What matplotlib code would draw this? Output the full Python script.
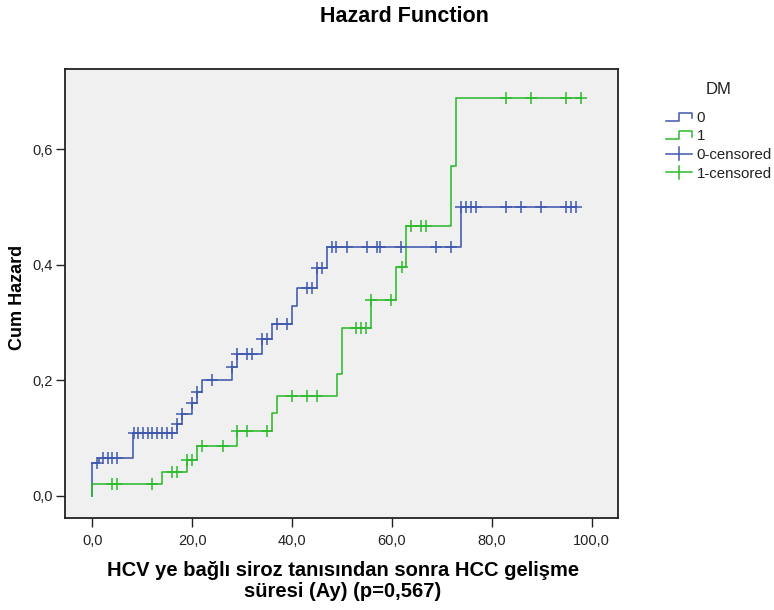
import numpy as np
import matplotlib
matplotlib.use("Agg")
import matplotlib.pyplot as plt
from matplotlib.lines import Line2D
from matplotlib.legend_handler import HandlerBase

plt.rcParams['font.family'] = ['Liberation Sans', 'DejaVu Sans']

# ---- data ----
t0 = [0, 0, 1.3, 8.1, 16.9, 17.9, 20.0, 20.9, 22.0, 28.0, 28.9, 34.0, 36.0, 40.0, 41.0, 45.0, 47.0, 73.9, 96.8]
h0 = [0, 0.056, 0.066, 0.108, 0.124, 0.141, 0.161, 0.180, 0.200, 0.223, 0.246, 0.271, 0.298, 0.328, 0.359, 0.394, 0.431, 0.500, 0.500]
c0 = [1.0, 2.2, 3.1, 4.0, 5.0, 8.4, 9.2, 10.2, 11.1, 12.0, 13.0, 14.0, 15.0, 16.0, 16.9, 17.9,
      20.0, 20.9, 24.0, 28.0, 28.9, 30.9, 31.9, 34.0, 35.0, 37.0, 39.0, 43.0, 44.0, 45.0, 46.0,
      48.0, 48.9, 51.0, 55.0, 57.0, 57.7, 61.9, 68.9, 71.8, 73.9, 74.9, 75.9, 76.8, 82.9, 85.9,
      89.9, 94.9, 95.9, 96.8]

t1 = [0, 0, 14.0, 19.0, 21.0, 28.9, 36.0, 37.0, 49.0, 50.0, 55.9, 60.9, 62.9, 71.9, 72.9, 97.9]
h1 = [0, 0.0197, 0.0405, 0.062, 0.0865, 0.112, 0.143, 0.173, 0.211, 0.291, 0.339, 0.396, 0.466, 0.571, 0.688, 0.688]
c1 = [4.0, 5.0, 12.0, 16.0, 16.9, 19.0, 20.0, 22.0, 26.1, 28.9, 31.0, 35.0, 40.0, 43.0, 45.0,
      52.9, 53.9, 54.9, 55.9, 59.9, 62.0, 63.9, 65.9, 66.8, 82.9, 87.9, 94.9, 97.9]

groups = ['0', '1']
xticks = [0, 20, 40, 60, 80, 100]
xticklabels = ['0,0', '20,0', '40,0', '60,0', '80,0', '100,0']
yticks = [0.0, 0.2, 0.4, 0.6]
yticklabels = ['0,0', '0,2', '0,4', '0,6']

BLUE = '#3F58AD'
GREEN = '#2DBA2D'

fig = plt.figure(figsize=(7.74, 6.10), dpi=100)
ax = fig.add_axes([65/774, 1-518/610, (618-65)/774, (518-69)/610])
ax.set_facecolor('#F0F0F0')

def level_at(ts, hs, cs):
    ts = np.asarray(ts); hs = np.asarray(hs)
    idx = np.searchsorted(ts, np.asarray(cs) + 1e-9, side='right') - 1
    return hs[idx]

for ts, hs, cs, col in [(t0, h0, c0, BLUE), (t1, h1, c1, GREEN)]:
    ax.step(ts, hs, where='post', color=col, lw=1.15, zorder=3)
    ax.plot(cs, level_at(ts, hs, cs), linestyle='none', marker='+', ms=8,
            mew=1.1, color=col, zorder=4)

ax.set_xlim(-5.47, 105.3)
ax.set_ylim(-0.0386, 0.7385)
ax.set_xticks(xticks)
ax.set_xticklabels(xticklabels)
ax.set_yticks(yticks)
ax.set_yticklabels(yticklabels)
ax.tick_params(direction='out', length=6.5, width=1.0, labelsize=10.5, colors='#222222')
ax.tick_params(axis='x', pad=5)
ax.tick_params(axis='y', pad=2)
for s in ax.spines.values():
    s.set_linewidth(1.3)
    s.set_color('#222222')

fig.text(404/774, 1-16/610, 'Hazard Function', ha='center', va='center',
         fontsize=15.5, fontweight='bold')
fig.text(343/774, 1-581/610, 'HCV ye bağlı siroz tanısından sonra HCC gelişme\nsüresi (Ay) (p=0,567)',
         ha='center', va='center', fontsize=14.5, fontweight='bold', linespacing=1.12)
fig.text(18/774, 1-297/610, 'Cum Hazard', ha='center', va='center', rotation=90,
         fontsize=13, fontweight='bold')

# ---- legend ----
class StepHandler(HandlerBase):
    def create_artists(self, legend, orig_handle, xdescent, ydescent, width, height, fontsize, trans):
        x0 = -xdescent; y0 = -ydescent
        xs = [x0, x0 + 0.5*width, x0 + 0.5*width, x0 + width, x0 + width]
        ys = [y0 + 0.1*height, y0 + 0.1*height, y0 + 0.9*height, y0 + 0.9*height, y0 + 0.35*height]
        ln = Line2D(xs, ys, color=orig_handle.get_color(), lw=1.1, transform=trans)
        return [ln]

class CensHandler(HandlerBase):
    def create_artists(self, legend, orig_handle, xdescent, ydescent, width, height, fontsize, trans):
        x0 = -xdescent; y0 = -ydescent
        col = orig_handle.get_color()
        l1 = Line2D([x0, x0 + width], [y0 + 0.5*height]*2, color=col, lw=1.1, transform=trans)
        l2 = Line2D([x0 + 0.5*width]*2, [y0 - 0.1*height, y0 + 1.1*height], color=col, lw=1.1, transform=trans)
        return [l1, l2]

fig.text(719/774, 1-90/610, 'DM', ha='center', va='center', fontsize=12, color='#222222')

hs0 = Line2D([], [], color=BLUE)
hs1 = Line2D([], [], color=GREEN)
hc0 = Line2D([], [], color=BLUE, marker='+')
hc1 = Line2D([], [], color=GREEN, marker='+')
leg = fig.legend([hs0, hs1, hc0, hc1], groups + [g + '-censored' for g in groups],
                 loc='upper left', bbox_to_anchor=(666/774, 1-111/610), borderpad=0,
                 borderaxespad=0, frameon=False, fontsize=10.8,
                 handlelength=1.75, handletextpad=0.3, labelspacing=0.3,
                 handler_map={hs0: StepHandler(), hs1: StepHandler(),
                              hc0: CensHandler(), hc1: CensHandler()})
for t in leg.get_texts():
    t.set_color('#222222')

fig.savefig('out.png', dpi=100)
